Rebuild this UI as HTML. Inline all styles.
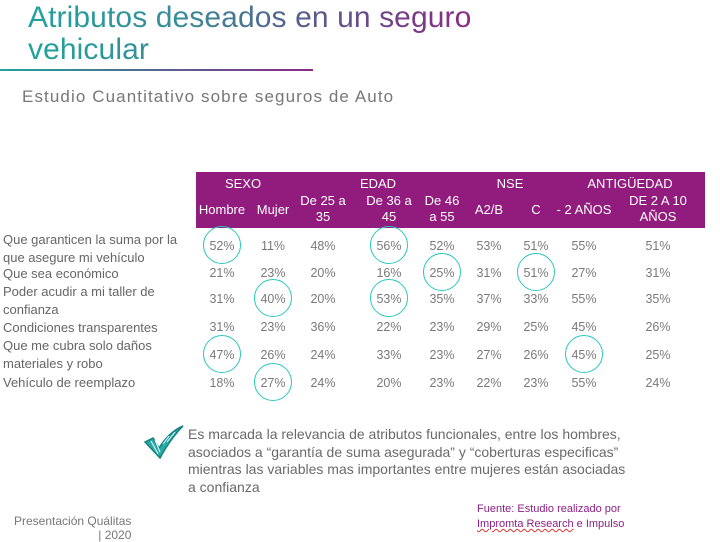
<!DOCTYPE html>
<html><head><meta charset="utf-8">
<style>
body{margin:0;width:720px;height:538px;background:#fff;position:relative;overflow:hidden;font-family:"Liberation Sans",sans-serif}
.a{position:absolute;white-space:nowrap}
#title{left:28px;top:2px;font-size:30px;line-height:32px;letter-spacing:0.1px;background:linear-gradient(90deg,#1fa39a 0%,#3a8a99 35%,#5a5a8a 65%,#8a2a86 100%);-webkit-background-clip:text;background-clip:text;color:transparent}
.lbl{left:3px;font-size:13px;color:#666;line-height:18px}
.hd{color:#fff;font-size:13px;text-align:center;line-height:16px;transform:translateX(-50%)}
.cell{font-size:12.5px;color:#7a7a7a;transform:translate(-50%,-50%)}
.circ{border:1.3px solid #2cc7c0;border-radius:50%;width:36px;height:36px;transform:translate(-50%,-50%)}
</style></head><body>
<div id="title" class="a">Atributos deseados en un seguro<br>vehicular</div>
<div class="a" style="left:0;top:69px;width:313px;height:2px;background:linear-gradient(90deg,#1fa39a,#8a2a86)"></div>
<div class="a" style="left:22px;top:87px;font-size:17px;letter-spacing:1.1px;color:#777">Estudio Cuantitativo sobre seguros de Auto</div>
<div class="a" style="left:196px;top:172px;width:509px;height:56px;background:#921c7e"></div>
<div id="tbl"></div>
<svg class="a" style="left:143px;top:424px" width="42" height="36" viewBox="0 0 42 36"><path d="M2 18 L10 14 L16 24 Q26 8 40 2 Q28 14 17 34 Z" fill="#2aa8a6" stroke="#17817f" stroke-width="1.5"/><path d="M8 17 L15 30 M12 16 L17 28 M20 20 L26 12 M24 18 L32 8" stroke="#e8ffff" stroke-width="1"/></svg>
<div class="a" style="left:188px;top:426px;font-size:14px;line-height:17.5px;color:#6a6a6a;white-space:normal;width:500px;font-family:'Liberation Sans Narrow','Liberation Sans',sans-serif">Es marcada la relevancia de atributos funcionales, entre los hombres,<br>asociados a “garantía de suma asegurada” y “coberturas especificas”<br>mientras las variables mas importantes entre mujeres están asociadas<br>a confianza</div>
<div class="a" style="left:477px;top:502px;font-size:11px;line-height:15px;color:#8a1f86">Fuente: Estudio realizado por<br><span style="text-decoration:underline wavy #d33;text-decoration-thickness:1px">Impromta Research</span> e Impulso</div>
<div class="a" style="left:14px;top:514px;font-size:12px;line-height:14px;color:#777;text-align:right">Presentación Quálitas<br>| 2020</div>
<script>
const rowLabels=[["Que garanticen la suma por la","que asegure mi vehículo"],["Que sea económico"],["Poder acudir a mi taller de","confianza"],["Condiciones transparentes"],["Que me cubra solo daños","materiales y robo"],["Vehículo de reemplazo"]];
const groups=["SEXO","EDAD","NSE","ANTIGÜEDAD"];
const columns=[["Hombre"],["Mujer"],["De 25 a","35"],["De 36 a","45"],["De 46","a 55"],["A2/B"],["C"],["- 2 AÑOS"],["DE 2 A 10","AÑOS"]];
const values=[[52,11,48,56,52,53,51,55,51],[21,23,20,16,25,31,51,27,31],[31,40,20,53,35,37,33,55,35],[31,23,36,22,23,29,25,45,26],[47,26,24,33,23,27,26,45,25],[18,27,24,20,23,22,23,55,24]];
const highlights=[[0,0],[0,3],[1,4],[1,6],[2,1],[2,3],[4,0],[4,7],[5,1]];
// layout
const colX=[222,273,323,389,442,489,536,584,658];
const groupX=[243,378,510,630];
const rowY=[246,273,299,327,355,383];
const lblTop=[231,265,283,319,337,374];
const T=document.getElementById('tbl');
function mk(cls,name,html,st){const d=document.createElement('div');d.className='a '+cls;


d.innerHTML=html;Object.assign(d.style,st);T.appendChild(d);return d;}
groups.forEach((g,i)=>mk('hd','group-header',g,{left:groupX[i]+'px',top:'176px'}));
columns.forEach((c,i)=>{const two=c.length>1;mk('hd','column-header',c.join('<br>'),{left:colX[i]+'px',top:(two?'193px':'202px')});});
rowLabels.forEach((l,i)=>mk('lbl','row-label',l.join('<br>'),{top:lblTop[i]+'px'}));
values.forEach((r,i)=>r.forEach((v,j)=>mk('cell','value-cell',v+'%',{left:colX[j]+'px',top:rowY[i]+'px'})));
highlights.forEach(h=>mk('circ','highlight-circle','',{left:colX[h[1]]+'px',top:(rowY[h[0]]-1)+'px'}));
</script>
</body></html>
